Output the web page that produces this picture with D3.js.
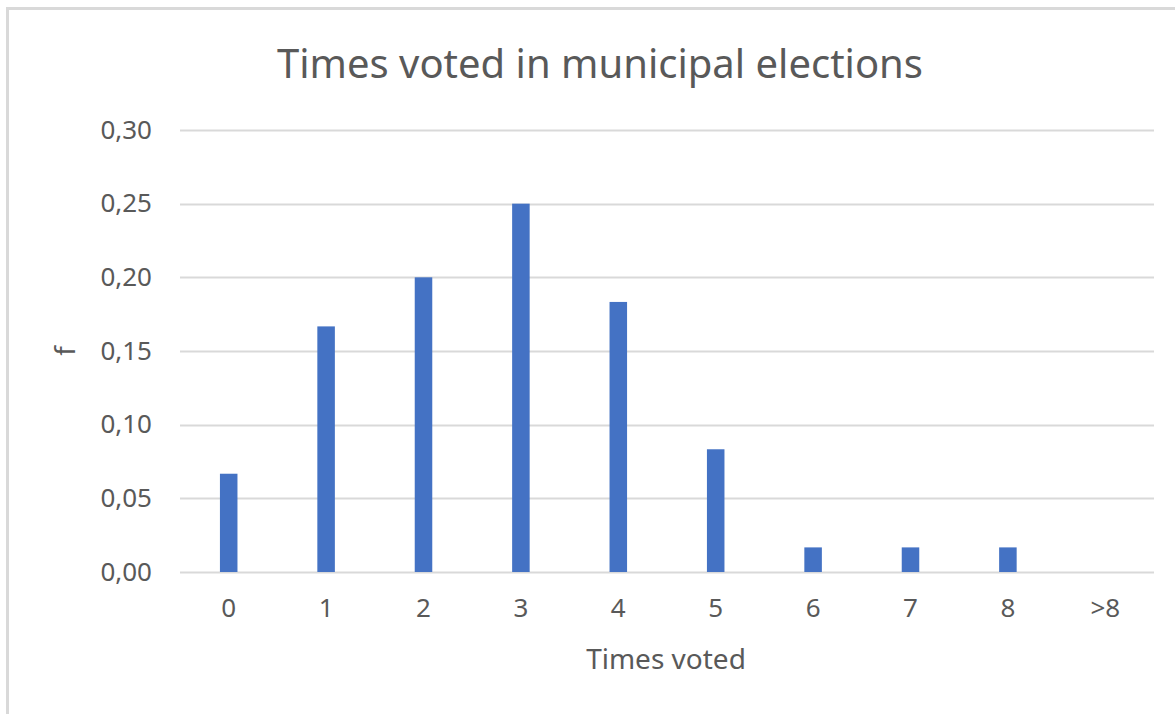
<!DOCTYPE html>
<html>
<head>
<meta charset="utf-8">
<script src="https://cdn.jsdelivr.net/npm/d3@7"></script>
<style>
  html, body { margin: 0; padding: 0; background: #fff; }
  svg { display: block; }
  text { font-family: "Noto Sans", "Open Sans", sans-serif; fill: #595959; }
</style>
</head>
<body>
<svg id="chart" width="1175" height="714"></svg>
<script>
const categories = ["0", "1", "2", "3", "4", "5", "6", "7", "8", ">8"];
const frequencies = [0.0667, 0.1667, 0.2, 0.25, 0.1833, 0.0833, 0.0167, 0.0167, 0.0167, 0];
const yTicks = [0, 0.05, 0.10, 0.15, 0.20, 0.25, 0.30];
const titleText = "Times voted in municipal elections";
const xTitle = "Times voted";
const yTitle = "f";

const svg = d3.select("#chart");
const W = 1175, H = 714;

// chart border
svg.append("rect")
  .attr("x", 7.5).attr("y", 8.5)
  .attr("width", W + 10).attr("height", H + 10)
  .attr("fill", "#fff").attr("stroke", "#d9d9d9").attr("stroke-width", 3);

const plot = { left: 180, right: 1154, top: 130, bottom: 572 };

const x = d3.scaleBand().domain(categories)
  .range([plot.left, plot.right]).paddingInner(0.82).paddingOuter(0.41);
const y = d3.scaleLinear().domain([0, 0.30]).range([plot.bottom, plot.top]);

// gridlines
svg.append("g").selectAll("line").data(yTicks).join("line")
  .attr("x1", plot.left).attr("x2", plot.right)
  .attr("y1", d => Math.round(y(d)) + 0.5).attr("y2", d => Math.round(y(d)) + 0.5)
  .attr("stroke", "#d9d9d9").attr("stroke-width", 2);

// bars
svg.append("g").selectAll("rect").data(categories).join("rect")
  .attr("x", (d) => x(d))
  .attr("width", x.bandwidth())
  .attr("y", (d, i) => y(frequencies[i]))
  .attr("height", (d, i) => y(0) - y(frequencies[i]))
  .attr("fill", "#4472c4");

// y axis labels
const fmt = v => d3.format(".2f")(v).replace(".", ",");
const yAxis = d3.axisLeft(y).tickValues(yTicks).tickFormat(fmt).tickSize(0).tickPadding(0);
const gy = svg.append("g").attr("transform", `translate(152,0)`).call(yAxis);
gy.select(".domain").remove();
gy.selectAll("text").attr("font-size", 26).attr("fill", "#595959")
  .attr("font-family", "Noto Sans, Open Sans, sans-serif");

// x axis labels
const xAxis = d3.axisBottom(x).tickSize(0).tickPadding(0);
const gx = svg.append("g").attr("transform", `translate(0,${plot.bottom + 27})`).call(xAxis);
gx.select(".domain").remove();
gx.selectAll("text").attr("font-size", 26).attr("fill", "#595959")
  .attr("font-family", "Noto Sans, Open Sans, sans-serif");

// title
svg.append("text").attr("x", 600).attr("y", 78)
  .attr("text-anchor", "middle").attr("font-size", 40)
  .text(titleText);

// x axis title
svg.append("text").attr("x", 666).attr("y", 669)
  .attr("text-anchor", "middle").attr("font-size", 28)
  .text(xTitle);

// y axis title
svg.append("text")
  .attr("transform", "translate(75,351) rotate(-90)")
  .attr("text-anchor", "middle").attr("font-size", 28)
  .text(yTitle);
</script>
</body>
</html>
